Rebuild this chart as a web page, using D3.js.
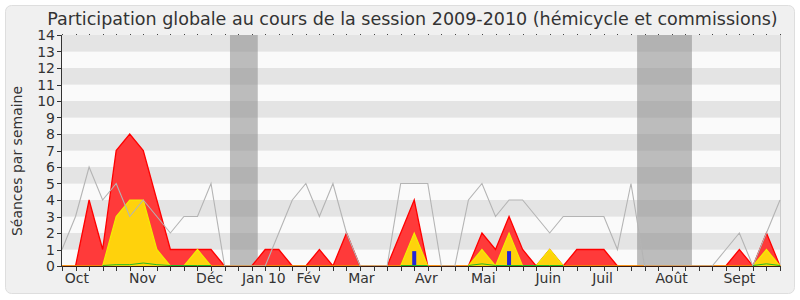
<!DOCTYPE html>
<html>
<head>
<meta charset="utf-8">
<script src="https://cdn.jsdelivr.net/npm/d3@7"></script>
<style>
  body { margin: 0; background: #fff; }
  text { font-family: "DejaVu Sans", sans-serif; fill: #333; }
</style>
</head>
<body>
<div id="chart"></div>
<script>
// weekly values, one entry per week from late Sept 2009 to Sept 2010
const semaines = d3.range(54);
const presences = [1, 3, 6, 4, 5, 3, 4, 3, 2, 3, 3, 5, 0, 0, 0, 0, 2, 4, 5, 3, 5, 2, 0, 0, 0, 5, 5, 5, 0, 0,
  4, 5, 3, 4, 4, 3, 2, 3, 3, 3, 3, 1, 5, 0, 0, 0, 0, 0, 0, 1, 2, 0, 2, 4];
const commissions = [0, 0, 4, 1, 7, 8, 7, 4, 1, 1, 1, 1, 0, 0, 0, 1, 1, 0, 0, 1, 0, 2, 0, 0, 0, 2, 4, 0, 0, 0,
  0, 2, 1, 3, 1, 0, 1, 0, 1, 1, 1, 0, 0, 0, 0, 0, 0, 0, 0, 0, 1, 0, 2, 0];
const interventions = [0, 0, 0, 0, 3, 4, 4, 1, 0, 0, 1, 0, 0, 0, 0, 0, 0, 0, 0, 0, 0, 0, 0, 0, 0, 0, 2, 0, 0, 0,
  0, 1, 0, 2, 0, 0, 1, 0, 0, 0, 0, 0, 0, 0, 0, 0, 0, 0, 0, 0, 0, 0, 1, 0];
const questions = [0, 0, 0, 0, 0.05, 0.05, 0.15, 0.05, 0, 0, 0, 0, 0, 0, 0, 0, 0, 0, 0, 0, 0, 0, 0, 0, 0, 0, 0, 0, 0, 0,
  0, 0.1, 0, 0, 0, 0, 0, 0, 0, 0, 0, 0, 0, 0, 0, 0, 0, 0, 0, 0, 0, 0, 0.1, 0];
const hemicycle = [0, 0, 0, 0, 0, 0, 0, 0, 0, 0, 0, 0, 0, 0, 0, 0, 0, 0, 0, 0, 0, 0, 0, 0, 0, 0, 0.9, 0, 0, 0,
  0, 0, 0, 0.9, 0, 0, 0, 0, 0, 0, 0, 0, 0, 0, 0, 0, 0, 0, 0, 0, 0, 0, 0, 0];
const vacances = [[12.4, 14.45], [42.45, 46.5]];
const mois = ['Oct', 'Nov', 'Déc', 'Jan 10', 'Fév', 'Mar', 'Avr', 'Mai', 'Juin', 'Juil', 'Août', 'Sept'];
const moisPos = [1.1, 5.95, 10.9, 14.9, 18.2, 22.1, 26.9, 31.1, 35.9, 39.9, 45, 50];
const yTicks = d3.range(0, 15);

(function() {
  let width = 800;
  let height = 300;
  let svg = d3.select('#chart')
    .append('svg')
    .attr('width', width)
    .attr('height', height);

  let x = d3.scaleLinear().domain([0, 53]).range([62, 780]);
  let y = d3.scaleLinear().domain([0, 14]).range([266, 35]);

  svg.append('rect')
    .attr('x', 5.5).attr('y', 5.5)
    .attr('width', 789).attr('height', 288)
    .attr('rx', 6)
    .attr('fill', '#f0f0f0')
    .attr('stroke', '#dedede');

  // stripes
  svg.selectAll('.stripe')
    .data(d3.range(0, 14))
    .enter().append('rect')
    .attr('x', x(0))
    .attr('y', d => y(d + 1))
    .attr('width', x(53) - x(0))
    .attr('height', d => y(d) - y(d + 1))
    .attr('fill', d => d % 2 ? '#e4e4e4' : '#fafafa');

  svg.append('line')
    .attr('x1', x(53) + 0.5).attr('x2', x(53) + 0.5)
    .attr('y1', y(14)).attr('y2', y(0))
    .attr('stroke', '#cccccc');

  // holidays
  svg.selectAll('.vac')
    .data(vacances)
    .enter().append('rect')
    .attr('x', d => x(d[0]))
    .attr('y', y(14))
    .attr('width', d => x(d[1]) - x(d[0]))
    .attr('height', y(0) - y(14))
    .attr('fill', '#888')
    .attr('opacity', 0.55);

  let area = vals => d3.area()
    .x((d, i) => x(i))
    .y0(y(0))
    .y1((d, i) => y(vals[i]));

  svg.append('path')
    .datum(semaines)
    .attr('d', area(commissions))
    .attr('fill', '#ff3a3a')
    .attr('stroke', '#ff0000')
    .attr('stroke-width', 1.3);

  svg.append('path')
    .datum(semaines)
    .attr('d', area(interventions))
    .attr('fill', '#ffd20c')
    .attr('stroke', '#f2ee00')
    .attr('stroke-width', 1.2);

  svg.selectAll('.bar')
    .data(semaines.filter(i => hemicycle[i] > 0))
    .enter().append('rect')
    .attr('x', i => x(i) - 2)
    .attr('y', i => y(hemicycle[i]))
    .attr('width', 4)
    .attr('height', i => y(0) - y(hemicycle[i]))
    .attr('fill', '#2424d8');

  let line = d3.line()
    .x((d, i) => x(i))
    .y((d, i) => y(presences[i]));
  svg.append('path')
    .datum(semaines)
    .attr('d', line)
    .attr('fill', 'none')
    .attr('stroke', '#b4b4b4')
    .attr('stroke-width', 1.1);

  // x axis
  svg.append('line')
    .attr('x1', x(0)).attr('x2', x(53))
    .attr('y1', y(0) + 0.5).attr('y2', y(0) + 0.5)
    .attr('stroke', '#3a1a10');

  let qline = d3.line()
    .defined((d, i) => interventions[i] > 0 || interventions[i - 1] > 0 || interventions[i + 1] > 0)
    .x((d, i) => x(i))
    .y((d, i) => y(questions[i]) - 0.5);
  svg.append('path')
    .datum(semaines)
    .attr('d', qline)
    .attr('fill', 'none')
    .attr('stroke', '#22bb22')
    .attr('stroke-width', 1);

  svg.selectAll('.xtick')
    .data(semaines)
    .enter().append('line')
    .attr('x1', i => Math.round(x(i)) + 0.5)
    .attr('x2', i => Math.round(x(i)) + 0.5)
    .attr('y1', y(0))
    .attr('y2', y(0) + 5)
    .attr('stroke', '#333');

  svg.selectAll('.toptick')
    .data(semaines)
    .enter().append('line')
    .attr('x1', i => Math.round(x(i)) + 0.5)
    .attr('x2', i => Math.round(x(i)) + 0.5)
    .attr('y1', y(14) - 1)
    .attr('y2', y(14))
    .attr('stroke', '#444');

  svg.selectAll('.mois')
    .data(mois)
    .enter().append('text')
    .attr('x', (d, i) => x(moisPos[i]))
    .attr('y', 283)
    .attr('text-anchor', 'middle')
    .attr('font-size', 14)
    .text(d => d);

  // y axis
  svg.append('line')
    .attr('x1', x(0) - 0.5).attr('x2', x(0) - 0.5)
    .attr('y1', y(14)).attr('y2', y(0))
    .attr('stroke', '#333');

  svg.selectAll('.ytick')
    .data(yTicks)
    .enter().append('line')
    .attr('x1', x(0) - 5).attr('x2', x(0))
    .attr('y1', d => Math.round(y(d)) + 0.5)
    .attr('y2', d => Math.round(y(d)) + 0.5)
    .attr('stroke', '#333');

  svg.selectAll('.ylab')
    .data(yTicks)
    .enter().append('text')
    .attr('x', x(0) - 7)
    .attr('y', d => y(d) + 5)
    .attr('text-anchor', 'end')
    .attr('font-size', 14)
    .text(d => d);

  svg.append('text')
    .attr('transform', 'translate(22,161) rotate(-90)')
    .attr('text-anchor', 'middle')
    .attr('font-size', 14)
    .text('Séances par semaine');

  let title = svg.append('text')
    .attr('x', 412.5)
    .attr('y', 25)
    .attr('text-anchor', 'middle')
    .attr('font-size', 16)
    .text('Participation globale au cours de la session 2009-2010 (hémicycle et commissions)');
  let w = title.node().getComputedTextLength();
  title.attr('font-size', 16 * 731 / w);
})();
</script>
</body>
</html>
